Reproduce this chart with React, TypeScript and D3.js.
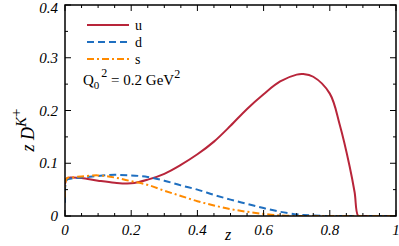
import React from 'react';
import * as d3 from 'd3';

const zGrid = [0, 0.005, 0.02, 0.05, 0.1, 0.15, 0.2, 0.25, 0.3, 0.35, 0.4, 0.45, 0.5, 0.55, 0.6, 0.65, 0.7, 0.72, 0.75, 0.8, 0.83, 0.86, 0.875, 0.886, 0.9, 0.95, 1];
const uValues = [0.06, 0.071, 0.073, 0.072, 0.067, 0.063, 0.062, 0.069, 0.08, 0.097, 0.117, 0.141, 0.171, 0.203, 0.231, 0.255, 0.268, 0.269, 0.264, 0.232, 0.173, 0.094, 0.045, 0, 0, 0, 0];
const dValues = [0.025, 0.068, 0.071, 0.073, 0.076, 0.078, 0.077, 0.074, 0.067, 0.058, 0.05, 0.04, 0.031, 0.023, 0.015, 0.008, 0.003, 0.002, 0.001, 0, 0, 0, 0, 0, 0, 0, 0];
const sValues = [0.035, 0.071, 0.073, 0.075, 0.077, 0.073, 0.066, 0.059, 0.048, 0.038, 0.028, 0.02, 0.013, 0.008, 0.004, 0.001, 0, 0, 0, 0, 0, 0, 0, 0, 0, 0, 0];

const xTicks = [0, 0.2, 0.4, 0.6, 0.8, 1];
const yTicks = [0, 0.1, 0.2, 0.3, 0.4];

const series = [
  { name: 'u', values: uValues, color: '#b8253a', dash: undefined },
  { name: 'd', values: dValues, color: '#1f6fc0', dash: '7,4' },
  { name: 's', values: sValues, color: '#ff8a00', dash: '7,3,2,3' },
];

const left = 65, right = 396, top = 5, bottom = 216;
const x = d3.scaleLinear().domain([0, 1]).range([left, right]);
const y = d3.scaleLinear().domain([0, 0.4]).range([bottom, top]);
const FONT = 'Times New Roman';

const line = d3.line<number>()
  .x((_, i) => x(zGrid[i]))
  .y(d => y(d))
  .curve(d3.curveCatmullRom.alpha(0.5));

const xMinor = d3.range(0, 21).map(i => i * 0.05);
const yMinor = d3.range(0, 9).map(i => i * 0.05);

const App = () => (
  <svg width={399} height={246} fontFamily={FONT}
    style={{ position: 'absolute', left: 0, top: 0, background: '#fff', fontFamily: FONT }}>
    <defs>
      <clipPath id="plotclip">
        <rect x={left} y={top} width={right - left} height={bottom - top} />
      </clipPath>
    </defs>

    {/* curves */}
    <g clipPath="url(#plotclip)">
      {series.map(s => (
        <path key={s.name} d={line(s.values) || ''} fill="none" stroke={s.color}
          strokeWidth={2} strokeDasharray={s.dash} />
      ))}
    </g>

    {/* ticks, inward on all four sides */}
    <g stroke="#000" strokeWidth={1}>
      {xMinor.map((v, i) => {
        const len = i % 4 === 0 ? 6 : 3;
        return (
          <g key={'x' + i}>
            <line x1={x(v)} x2={x(v)} y1={bottom} y2={bottom - len} />
            <line x1={x(v)} x2={x(v)} y1={top} y2={top + len} />
          </g>
        );
      })}
      {yMinor.map((v, i) => {
        const len = i % 2 === 0 ? 6 : 3;
        return (
          <g key={'y' + i}>
            <line y1={y(v)} y2={y(v)} x1={left} x2={left + len} />
            <line y1={y(v)} y2={y(v)} x1={right} x2={right - len} />
          </g>
        );
      })}
    </g>
    <rect x={left} y={top} width={right - left} height={bottom - top}
      fill="none" stroke="#000" strokeWidth={1.5} />

    {/* tick labels */}
    {xTicks.map(d => (
      <text key={'xt' + d} x={x(d)} y={235} textAnchor="middle"
        style={{ fontFamily: FONT, fontStyle: 'italic', fontSize: '15px' }}>
        {String(d)}
      </text>
    ))}
    {yTicks.map(d => (
      <text key={'yt' + d} x={58} y={Math.max(y(d) + 5, 13)} textAnchor="end"
        style={{ fontFamily: FONT, fontStyle: 'italic', fontSize: '15px' }}>
        {String(d)}
      </text>
    ))}

    {/* axis titles */}
    <text x={228} y={240} textAnchor="middle" style={{ fontFamily: FONT, fontStyle: 'italic', fontSize: '16px' }}>z</text>
    <text transform="translate(34,130) rotate(-90)" textAnchor="middle"
      style={{ fontFamily: FONT, fontStyle: 'italic', fontSize: '18px' }}>
      <tspan>z D</tspan>
      <tspan dy={-8} style={{ fontSize: '15px' }}>K</tspan>
      <tspan dy={-5} style={{ fontSize: '15px', fontStyle: 'normal' }}>+</tspan>
    </text>

    {/* legend */}
    {series.map((s, i) => {
      const ly = 25 + i * 17;
      return (
        <g key={'lg' + s.name}>
          <line x1={87} x2={129} y1={ly} y2={ly} stroke={s.color} strokeWidth={2} strokeDasharray={s.dash} />
          <text x={135} y={ly + 4.5} style={{ fontFamily: FONT, fontSize: '14px' }}>{s.name}</text>
        </g>
      );
    })}
    <text x={83} y={84.5} style={{ fontFamily: FONT, fontSize: '15px' }}>
      <tspan>Q</tspan>
      <tspan dy={4} style={{ fontSize: '11px' }}>0</tspan>
      <tspan dy={-12} dx={2} style={{ fontSize: '12px' }}>2</tspan>
      <tspan dy={8}> = 0.2 GeV</tspan>
      <tspan dy={-7} style={{ fontSize: '12px' }}>2</tspan>
    </text>
  </svg>
);

export default App;
